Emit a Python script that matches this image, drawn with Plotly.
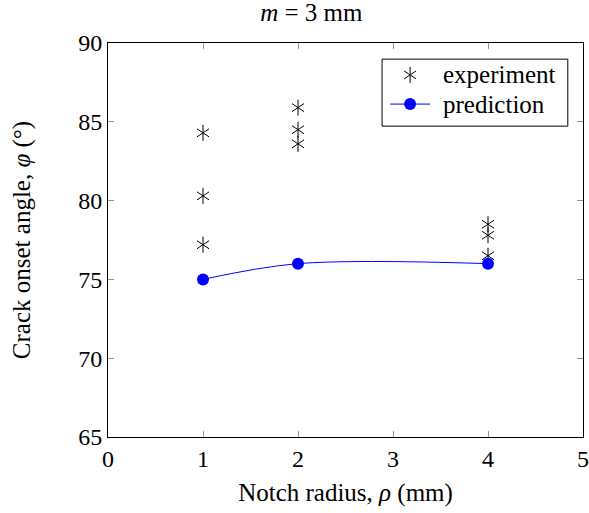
import plotly.graph_objects as go

# Data
exp_x = [1, 1, 1, 2, 2, 2, 4, 4, 4]
exp_y = [84.3, 80.3, 77.2, 85.9, 84.5, 83.6, 78.5, 77.8, 76.5]
pred_x = [1, 2, 4]
pred_y = [75.0, 76.0, 76.0]
x_ticks = [0, 1, 2, 3, 4, 5]
y_ticks = [65, 70, 75, 80, 85, 90]

FONT = "Liberation Serif"
FS = 25
BLUE = "rgb(0,0,255)"

fig = go.Figure()

# experiment: 6-armed asterisk built from y-up + y-down
for sym in ["y-up-open", "y-down-open"]:
    fig.add_trace(go.Scatter(
        x=exp_x, y=exp_y, mode="markers", showlegend=False,
        marker=dict(symbol=sym, size=10, line=dict(color="black", width=1), color="black"),
        hoverinfo="skip"))

fig.add_trace(go.Scatter(
    x=pred_x, y=pred_y, mode="lines+markers", showlegend=False,
    line=dict(color=BLUE, width=1, shape="spline", smoothing=1),
    marker=dict(symbol="circle", size=12, color=BLUE)))

# manual legend on an overlay axis (0..1 over plot area)
lx = 0.636
ly1, ly2 = 0.919, 0.845
for sym in ["y-up-open", "y-down-open"]:
    fig.add_trace(go.Scatter(
        x=[lx], y=[ly1], xaxis="x2", yaxis="y2", mode="markers", showlegend=False,
        marker=dict(symbol=sym, size=10, line=dict(color="black", width=1), color="black"),
        hoverinfo="skip"))
fig.add_trace(go.Scatter(
    x=[0.594, 0.678], y=[ly2, ly2], xaxis="x2", yaxis="y2", mode="lines", showlegend=False,
    line=dict(color=BLUE, width=1), hoverinfo="skip"))
fig.add_trace(go.Scatter(
    x=[lx], y=[ly2], xaxis="x2", yaxis="y2", mode="markers", showlegend=False,
    marker=dict(symbol="circle", size=12, color=BLUE), hoverinfo="skip"))

fig.add_shape(type="rect", xref="paper", yref="paper", x0=0.577, x1=0.968, y0=0.789, y1=0.959,
              line=dict(color="black", width=1), fillcolor="white", layer="below")
for txt, yy in [("experiment", ly1), ("prediction", ly2)]:
    fig.add_annotation(x=0.700, y=yy, xref="paper", yref="paper", text=txt, showarrow=False,
                       xanchor="left", yanchor="middle", font=dict(family=FONT, size=FS, color="black"))

axis_common = dict(showgrid=False, zeroline=False, showline=True, linecolor="black", linewidth=1,
                   mirror="ticks", ticks="inside", ticklen=6, tickcolor="rgb(150,150,150)", tickwidth=1,
                   ticklabeloverflow="allow", automargin=False,
                   tickfont=dict(family=FONT, size=24, color="black"))

fig.update_layout(
    width=589, height=513,
    margin=dict(l=108, r=6, t=43, b=76),
    plot_bgcolor="white", paper_bgcolor="white",
    title=dict(text="<i>m</i> = 3 mm", x=0.428, xanchor="center", xref="paper", y=0.976, yanchor="middle",
               font=dict(family=FONT, size=FS, color="black")),
    xaxis=dict(range=[0, 5], tickvals=x_ticks, ticktext=[str(v) for v in x_ticks],
               title=dict(text="Notch radius, <i>ρ</i> (mm)", font=dict(family=FONT, size=FS, color="black"), standoff=12),
               **axis_common),
    yaxis=dict(range=[65, 90], tickvals=y_ticks, ticktext=[str(v) for v in y_ticks],
               title=dict(text="Crack onset angle, <i>φ</i> (°)", font=dict(family=FONT, size=FS, color="black"), standoff=40),
               **axis_common),
    xaxis2=dict(range=[0, 1], overlaying="x", visible=False, anchor="y2"),
    yaxis2=dict(range=[0, 1], overlaying="y", visible=False, anchor="x2"),
    showlegend=False,
)

fig.write_html("out.html", config={"displayModeBar": False},
               post_script="document.body.style.margin='0';document.body.style.overflow='hidden';")
